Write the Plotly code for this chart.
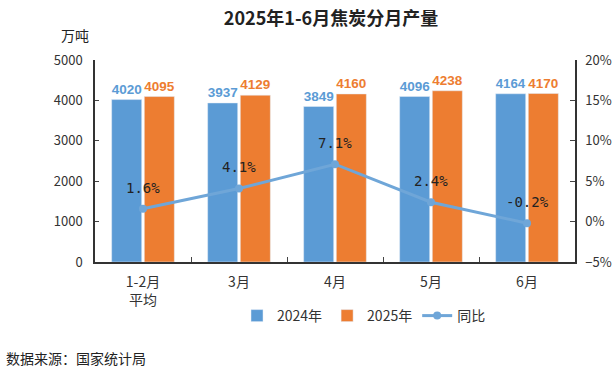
import plotly.graph_objects as go

categories = ["1-2月<br>平均", "3月", "4月", "5月", "6月"]
v2024 = [4020, 3937, 3849, 4096, 4164]
v2025 = [4095, 4129, 4160, 4238, 4170]
yoy = [1.6, 4.1, 7.1, 2.4, -0.2]
yoy_labels = ["1.6%", "4.1%", "7.1%", "2.4%", "-0.2%"]

BLUE = "#5B9BD5"
ORANGE = "#ED7D31"
LINE = "#6FA6D8"
FONT = "Noto Sans CJK SC"

W, H = 615, 371
pl, pr, pt, pb = 95, 40, 60, 109
pw, ph = W - pl - pr, H - pt - pb


def px(sx):
    return (sx - pl) / pw


def py(sy):
    return (H - pb - sy) / ph


fig = go.Figure()
fig.add_trace(go.Bar(
    x=categories, y=v2024, name="2024年", marker_color=BLUE,
    text=[str(v) for v in v2024], textposition="outside",
    textfont=dict(color=BLUE, size=15, family="Liberation Sans", weight="bold"), cliponaxis=False,
))
fig.add_trace(go.Bar(
    x=categories, y=v2025, name="2025年", marker_color=ORANGE,
    text=[str(v) for v in v2025], textposition="outside",
    textfont=dict(color=ORANGE, size=15, family="Liberation Sans", weight="bold"), cliponaxis=False,
))
fig.add_trace(go.Scatter(
    x=categories, y=yoy, name="同比", yaxis="y2",
    mode="lines+markers",
    line=dict(color=LINE, width=3), marker=dict(color=LINE, size=8),
    cliponaxis=False,
))

annotations = [
    dict(text=lab, x=cat, y=val, xref="x", yref="y2", yshift=21, showarrow=False,
         xanchor="center", yanchor="middle",
         font=dict(color="#222222", size=14, family="DejaVu Sans Mono"))
    for cat, val, lab in zip(categories, yoy, yoy_labels)
]
annotations += [
    dict(text="万吨", x=px(75), y=py(35), xref="paper", yref="paper", showarrow=False,
         xanchor="center", yanchor="middle", font=dict(size=14, color="#222222")),
    dict(text="数据来源：国家统计局", x=px(4), y=py(358), xref="paper", yref="paper",
         xanchor="left", yanchor="middle",
         showarrow=False, font=dict(size=14, color="#222222")),
]

fig.update_layout(
    width=W, height=H,
    margin=dict(l=pl, r=pr, t=pt, b=pb, autoexpand=False),
    paper_bgcolor="white", plot_bgcolor="white",
    font=dict(family=FONT, size=13, color="#333333"),
    barmode="group", bargap=0.32, bargroupgap=0.08,
    title=dict(text="<b>2025年1-6月焦炭分月产量</b>", x=331 / W, xanchor="center",
               y=1 - 19 / H, yanchor="middle",
               font=dict(size=18, color="#222222", family=FONT)),
    xaxis=dict(type="category", tickson="boundaries", ticks="inside", ticklen=5,
               showline=True, linecolor="#333333", linewidth=1.5, automargin=False,
               ticklabelstandoff=6,
               tickfont=dict(size=14, color="#333333"), showgrid=False),
    yaxis=dict(range=[0, 5000], dtick=1000, showline=True, linecolor="#333333", linewidth=1.5,
               ticks="inside", ticklen=4, showgrid=False, zeroline=False, automargin=False,
               ticklabelstandoff=8,
               tickfont=dict(size=13, color="#333333")),
    yaxis2=dict(range=[-5, 20], dtick=5, overlaying="y", side="right", ticksuffix="%",
                showline=True, linecolor="#333333", linewidth=1.5, ticks="inside", ticklen=5,
                showgrid=False, zeroline=False, automargin=False, ticklabelstandoff=6,
                tickfont=dict(size=13, color="#333333")),
    legend=dict(orientation="h", x=px(364), xanchor="center", y=py(316), yanchor="middle",
                font=dict(size=14, color="#333333"), traceorder="normal"),
    showlegend=True,
    annotations=annotations,
)

fig.write_html("out.html", config={"displayModeBar": False},
               post_script="document.body.style.margin='0';document.body.style.overflow='hidden';")
